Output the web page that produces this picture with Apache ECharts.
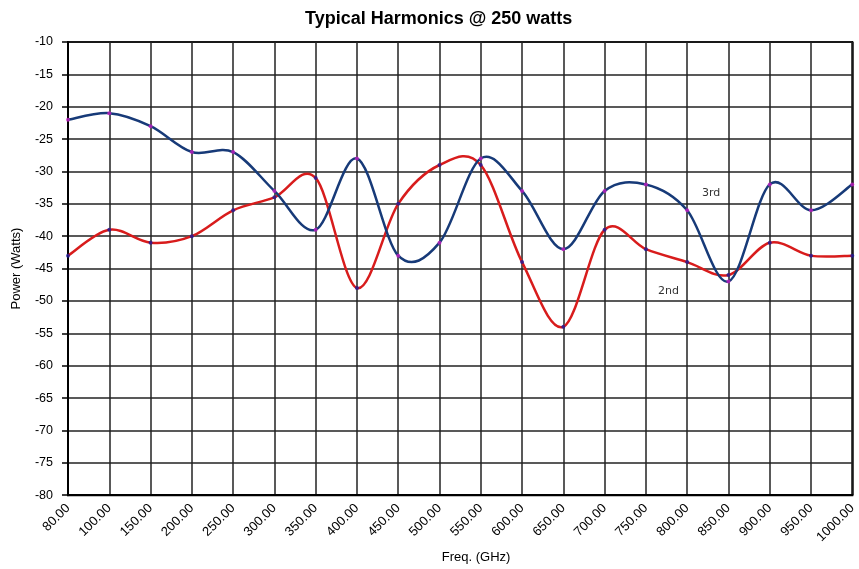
<!DOCTYPE html>
<html>
<head>
<meta charset="utf-8">
<script src="https://cdn.jsdelivr.net/npm/echarts@6/dist/echarts.min.js"></script>
<style>
  html, body { margin: 0; padding: 0; background: #fff; }
  #chart { width: 859px; height: 569px; }
</style>
</head>
<body>
<div id="chart"></div>
<script>
const freqs = ['80.00', '100.00', '150.00', '200.00', '250.00', '300.00', '350.00', '400.00', '450.00', '500.00',
  '550.00', '600.00', '650.00', '700.00', '750.00', '800.00', '850.00', '900.00', '950.00', '1000.00'];
const third = [-22, -21, -23, -27, -27, -33, -39, -28, -43, -41, -28, -33, -42, -33, -32, -36, -47, -32, -36, -32];
const second = [-43, -39, -41, -40, -36, -34, -31, -48, -35, -29, -29, -44, -54, -39, -42, -44, -46, -41, -43, -43];

const font = 'Liberation Sans, Arial, sans-serif';
const chart = echarts.init(document.getElementById('chart'));

// smooth line like the spreadsheet one (catmull-rom through the points)
function curve(values, color) {
  return function (params, api) {
    if (params.dataIndex !== 0) return;
    const pts = values.map((v, i) => api.coord([i, v]));
    let d = 'M' + pts[0][0] + ',' + pts[0][1];
    for (let i = 0; i < pts.length - 1; i++) {
      const p0 = pts[i - 1] || pts[i];
      const p1 = pts[i];
      const p2 = pts[i + 1];
      const p3 = pts[i + 2] || p2;
      const c1x = p1[0] + (p2[0] - p0[0]) / 6, c1y = p1[1] + (p2[1] - p0[1]) / 6;
      const c2x = p2[0] - (p3[0] - p1[0]) / 6, c2y = p2[1] - (p3[1] - p1[1]) / 6;
      d += ' C' + c1x + ',' + c1y + ' ' + c2x + ',' + c2y + ' ' + p2[0] + ',' + p2[1];
    }
    return {
      type: 'path',
      shape: { pathData: d },
      style: { stroke: color, lineWidth: 2.5, fill: null }
    };
  };
}

const option = {
  animation: false,
  title: {
    text: 'Typical Harmonics @ 250 watts',
    left: 300,
    top: 5,
    textStyle: { fontFamily: font, fontSize: 18, fontWeight: 'bold', color: '#000' }
  },
  grid: {
    left: 68, right: 4, top: 42, bottom: 71,
    show: true, borderColor: '#000', borderWidth: 2, backgroundColor: '#fff'
  },
  xAxis: {
    type: 'category',
    data: freqs,
    boundaryGap: false,
    name: 'Freq. (GHz)',
    nameLocation: 'middle',
    nameGap: 55,
    nameTextStyle: { fontFamily: font, fontSize: 13, color: '#000', padding: [0, 0, 0, 32] },
    axisLine: { lineStyle: { color: '#000', width: 2 } },
    axisTick: { show: false },
    axisLabel: { rotate: 45, fontFamily: font, fontSize: 13, color: '#000', margin: 11, interval: 0 },
    splitLine: { show: true, lineStyle: { color: '#222', width: 1.5 } }
  },
  yAxis: {
    type: 'value',
    min: -80, max: -10, interval: 5,
    name: 'Power (Watts)',
    nameLocation: 'middle',
    nameGap: 45,
    nameTextStyle: { fontFamily: font, fontSize: 13, color: '#000' },
    axisLine: { show: true, lineStyle: { color: '#000', width: 2 } },
    axisTick: { show: true, length: 6, lineStyle: { color: '#000', width: 1.5 } },
    axisLabel: { fontFamily: font, fontSize: 12.5, color: '#000', margin: 15 },
    splitLine: { show: true, lineStyle: { color: '#222', width: 1.5 } }
  },
  series: [
    {
      name: '2nd',
      type: 'custom',
      data: second.map((v, i) => [i, v]),
      encode: { x: 0, y: 1 },
      renderItem: curve(second, '#d81c1c'),
      z: 3
    },
    {
      name: '3rd',
      type: 'custom',
      data: third.map((v, i) => [i, v]),
      encode: { x: 0, y: 1 },
      renderItem: curve(third, '#173a78'),
      z: 4
    },
    {
      name: '2nd points',
      type: 'scatter',
      data: second.map((v, i) => [i, v]),
      symbolSize: 4,
      itemStyle: { color: '#1a1a9a' },
      z: 5
    },
    {
      name: '3rd points',
      type: 'scatter',
      data: third.map((v, i) => [i, v]),
      symbolSize: 4,
      itemStyle: { color: '#c21ec2' },
      z: 6
    }
  ],
  graphic: [
    {
      type: 'text', left: 696, top: 186, z: 10,
      style: { text: '3rd', fontFamily: 'DejaVu Sans', fontSize: 11, fill: '#333',
        backgroundColor: '#fff', padding: [2, 6] }
    },
    {
      type: 'text', left: 652, top: 284, z: 10,
      style: { text: '2nd', fontFamily: 'DejaVu Sans', fontSize: 11, fill: '#333',
        backgroundColor: '#fff', padding: [2, 6] }
    }
  ]
};
chart.setOption(option);
</script>
</body>
</html>
